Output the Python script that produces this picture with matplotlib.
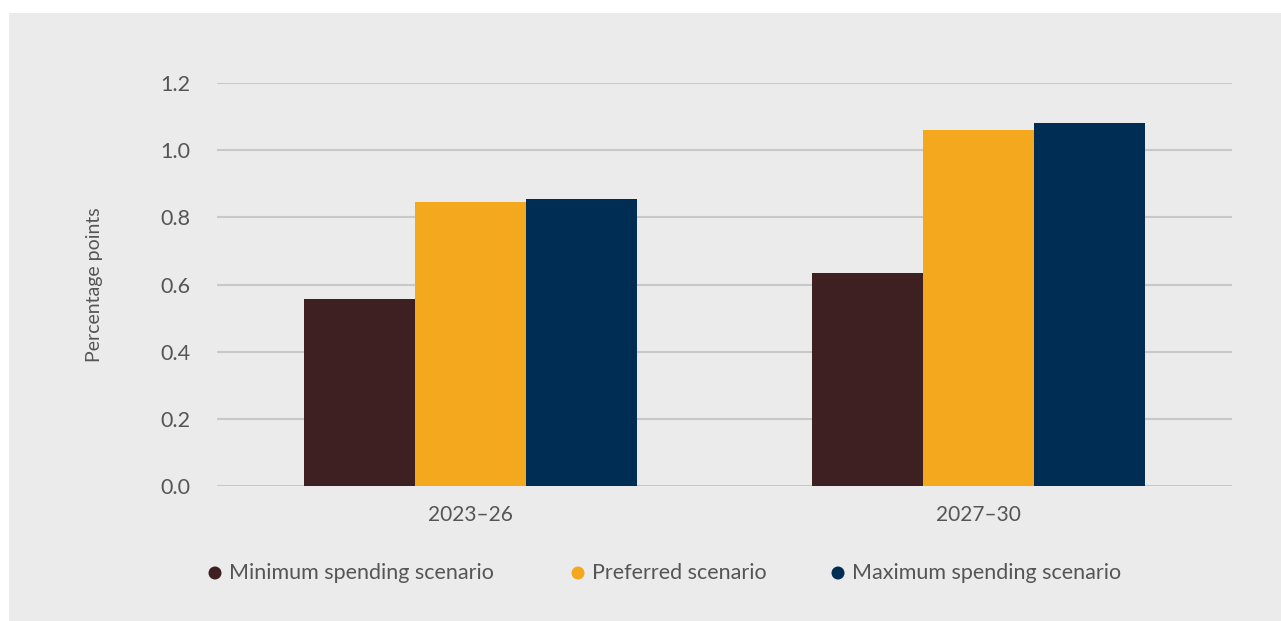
import matplotlib
matplotlib.use("Agg")
import matplotlib.pyplot as plt
from matplotlib.patches import Rectangle, Ellipse
import numpy as np

periods = ["2023–26", "2027–30"]
series_names = ["Minimum spending scenario", "Preferred scenario", "Maximum spending scenario"]
minimum = [0.557, 0.634]
preferred = [0.846, 1.060]
maximum = [0.855, 1.081]
colors = ["#3f2022", "#f4a81d", "#002d54"]
yticks = [0.0, 0.2, 0.4, 0.6, 0.8, 1.0, 1.2]

plt.rcParams["font.family"] = ["Lato", "DejaVu Sans"]

W, H = 1281, 621
fig = plt.figure(figsize=(W / 100, H / 100), dpi=100)
fig.patch.set_facecolor("white")
bg = "#ebebeb"
fig.patches.append(Rectangle((9 / W, 0), 1 - 9 / W, 1 - 13 / H, transform=fig.transFigure,
                             facecolor=bg, edgecolor="none", zorder=-10))

ax = fig.add_axes([217 / W, 1 - 486 / H, (1232 - 217) / W, (486 - 83) / H])
ax.set_zorder(2)
ax.patch.set_alpha(0)

x = np.arange(len(periods))
w = 0.2185
for i, (vals, c) in enumerate(zip([minimum, preferred, maximum], colors)):
    ax.bar(x + (i - 1) * w, vals, width=w, color=c, zorder=3, linewidth=0)

ax.set_xlim(-0.5, 1.5)
ax.set_ylim(0, 1.2 + 1e-6)
ax.set_yticks(yticks)
ax.set_yticklabels([f"{v:.1f}" for v in yticks])
ax.yaxis.grid(True, color="#c8c8c8", linewidth=1.5, zorder=0)
ax.set_axisbelow(True)
for s in ax.spines.values():
    s.set_visible(False)
ax.tick_params(axis="y", length=0, pad=19, labelsize=15.5, labelcolor="#555555")
ax.tick_params(axis="x", length=0, pad=14, labelsize=15, labelcolor="#555555")
ax.set_xticks(x)
ax.set_xticklabels(periods)
ax.set_ylabel("Percentage points", fontsize=14, color="#555555")
ax.yaxis.set_label_coords(-0.112, 0.5)

# legend row: coloured dots followed by series names
legend_x = [215, 578, 838]
legend_y = 1 - 573 / H
for px, name, c in zip(legend_x, series_names, colors):
    fig.patches.append(Ellipse((px / W, legend_y), 13 / W, 13 / H, transform=fig.transFigure,
                               facecolor=c, edgecolor="none", zorder=5))
    fig.text((px + 14) / W, legend_y, name, fontsize=15.5, color="#555555",
             ha="left", va="center")

fig.savefig("out.png", dpi=100, facecolor=fig.get_facecolor())
